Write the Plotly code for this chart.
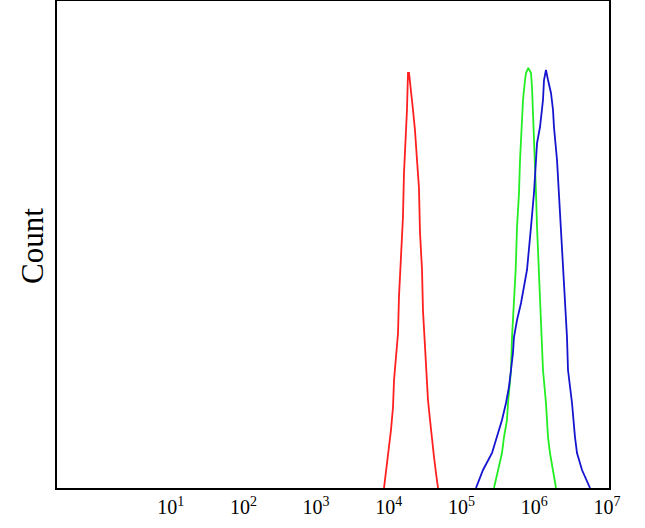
import numpy as np
import plotly.graph_objects as go

# log10 fluorescence intensity (x) and event counts (y)
red_log10 = [3.934, 3.961, 3.989, 4.030, 4.058, 4.072, 4.099, 4.127, 4.140, 4.168, 4.195, 4.209,
             4.237, 4.250, 4.264, 4.278, 4.333, 4.360, 4.388, 4.415, 4.429, 4.457, 4.470, 4.498,
             4.525, 4.539, 4.567, 4.594, 4.622, 4.649, 4.677]
red_count = [0, 15, 35, 58, 81, 108, 131, 155, 191, 231, 271, 315,
             350, 378, 415, 415, 378, 358, 328, 300, 256, 218, 178, 141,
             111, 88, 68, 48, 31, 15, 0]

green_log10 = [5.447, 5.502, 5.557, 5.585, 5.626, 5.640, 5.681, 5.695, 5.722, 5.745, 5.764, 5.791,
               5.805, 5.832, 5.846, 5.874, 5.887, 5.919, 5.956, 5.970, 5.984, 5.997, 6.011, 6.025,
               6.039, 6.066, 6.080, 6.107, 6.121, 6.162, 6.190, 6.217, 6.259, 6.300]
green_count = [0, 18, 35, 51, 68, 85, 118, 151, 185, 218, 261, 295,
               328, 361, 388, 408, 415, 420, 415, 401, 378, 345, 328, 295,
               261, 218, 185, 151, 118, 85, 51, 35, 18, 0]

blue_log10 = [5.199, 5.296, 5.420, 5.488, 5.557, 5.612, 5.653, 5.681, 5.708, 5.722, 5.764, 5.819,
              5.860, 5.901, 5.956, 5.997, 6.025, 6.039, 6.080, 6.121, 6.135, 6.162, 6.190, 6.231,
              6.259, 6.272, 6.314, 6.341, 6.369, 6.396, 6.424, 6.451, 6.465, 6.520, 6.561, 6.589,
              6.658, 6.768]
blue_count = [0, 18, 35, 51, 68, 85, 101, 118, 135, 151, 168, 185,
              201, 218, 261, 295, 328, 345, 361, 388, 408, 418, 408, 395,
              378, 361, 328, 295, 261, 218, 185, 151, 118, 85, 51, 35,
              18, 0]

tick_vals = [1e1, 1e2, 1e3, 1e4, 1e5, 1e6, 1e7]
tick_text = ["10<sup>1</sup>", "10<sup>2</sup>", "10<sup>3</sup>", "10<sup>4</sup>",
             "10<sup>5</sup>", "10<sup>6</sup>", "10<sup>7</sup>"]

fig = go.Figure()
for lx, cnt, col in [(red_log10, red_count, "#ff1f1f"),
                     (green_log10, green_count, "#22ee22"),
                     (blue_log10, blue_count, "#1515d0")]:
    fig.add_trace(go.Scatter(x=10 ** np.array(lx), y=cnt, mode="lines",
                             line=dict(color=col, width=1.8), showlegend=False,
                             hoverinfo="skip"))

W, H = 645, 528
ml, mr, mt, mb = 57, 36, 1, 40
serif = "Liberation Serif, DejaVu Serif, serif"
fig.update_layout(
    width=W, height=H,
    margin=dict(l=ml, r=mr, t=mt, b=mb),
    paper_bgcolor="white", plot_bgcolor="white",
    font=dict(family=serif, color="black"),
    hovermode=False,
)
fig.update_xaxes(type="log", range=[-0.564, 7.029], tickvals=tick_vals, ticktext=tick_text,
                 showgrid=False, zeroline=False, showline=True, linecolor="black",
                 linewidth=2, mirror=True, ticks="", tickfont=dict(size=20), automargin=False)
fig.update_yaxes(range=[0, 487], showticklabels=False, showgrid=False, zeroline=False,
                 showline=True, linecolor="black", linewidth=2, mirror=True, ticks="")
fig.add_annotation(text="Count", xref="paper", yref="paper", x=(33 - ml) / (W - ml - mr),
                   y=0.497, xanchor="center", yanchor="middle", textangle=-90,
                   showarrow=False, font=dict(size=31, family=serif))

fig.write_html("out.html", config={"displayModeBar": False},
               post_script="document.body.style.margin='0';document.body.style.padding='0';")
